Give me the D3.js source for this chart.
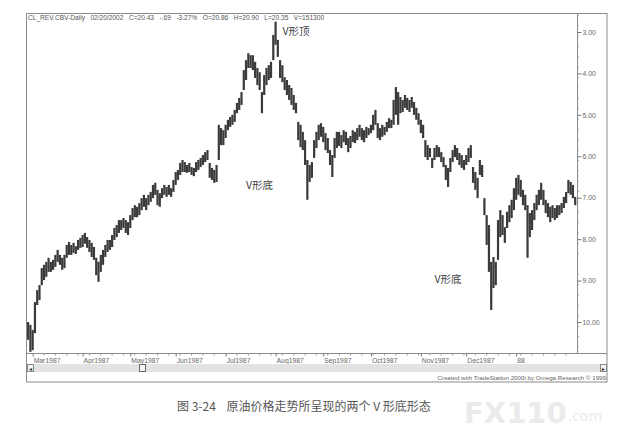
<!DOCTYPE html>
<html><head><meta charset="utf-8">
<script src="https://cdn.jsdelivr.net/npm/d3@7"></script>
<style>body{margin:0;background:#fff}svg{display:block}</style>
</head><body><svg id="c" width="644" height="446"></svg>
<script>
// Reversed-price daily bars (top value = smaller number, axis increases downward)
const barLow = [
10.00,10.07,10.19,9.52,9.23,9.11,8.70,8.62,8.55,8.45,
8.55,8.50,8.38,8.26,8.38,8.45,8.38,8.14,8.07,8.14,
8.09,8.17,8.02,7.97,7.90,7.85,7.95,8.02,8.09,8.19,
8.45,8.55,8.38,8.26,8.14,8.02,8.02,7.90,7.73,7.66,
7.54,7.54,7.49,7.54,7.59,7.42,7.25,7.18,7.22,7.13,
7.01,6.93,7.01,6.93,6.86,6.69,6.64,6.81,6.89,6.77,
6.69,6.74,6.69,6.77,6.57,6.38,6.33,6.16,6.09,6.14,
6.21,6.16,6.26,6.28,6.14,6.09,6.04,5.97,5.90,5.85,
6.16,6.28,6.33,6.21,5.24,5.32,5.37,5.24,5.12,5.05,
5.00,4.88,4.71,4.59,4.45,3.92,3.68,3.51,3.56,3.56,
3.72,3.87,3.97,4.45,4.04,3.87,3.80,3.72,3.07,2.75,
3.19,3.68,3.80,4.09,4.16,4.28,4.35,4.52,4.71,5.17,
5.24,5.41,5.61,6.09,6.21,6.14,5.61,5.41,5.24,5.20,
5.29,5.44,5.56,5.85,5.97,5.56,5.41,5.41,5.49,5.37,
5.41,5.56,5.51,5.37,5.41,5.32,5.24,5.32,5.37,5.29,
5.32,5.24,5.00,4.88,5.20,5.32,5.24,5.29,5.17,5.08,
5.12,4.64,4.33,4.45,4.57,4.64,4.52,4.59,4.64,4.57,
4.69,4.83,4.96,5.12,5.24,5.61,5.73,5.80,6.04,5.80,
5.73,5.78,5.90,6.02,6.21,6.28,6.04,5.85,5.73,5.80,
5.92,5.97,6.09,5.97,5.80,5.73,6.26,6.38,6.52,6.09,
6.21,7.01,7.42,7.66,8.55,8.43,8.55,7.54,7.30,7.42,
7.71,7.34,7.18,7.05,6.77,6.52,6.45,6.57,6.81,6.93,
7.18,7.37,7.30,7.13,6.93,6.81,6.64,6.81,7.05,7.13,
7.22,7.18,7.25,7.18,7.18,7.13,6.98,6.86,6.57,6.62,
6.69,6.98];
const barHigh = [
10.43,10.72,10.68,10.27,9.59,9.47,9.11,8.99,8.91,8.79,
8.79,8.74,8.67,8.55,8.62,8.74,8.70,8.45,8.38,8.38,
8.33,8.36,8.26,8.21,8.19,8.11,8.21,8.31,8.43,8.50,
8.87,9.03,8.79,8.62,8.43,8.31,8.26,8.19,8.02,7.95,
7.85,7.78,7.73,7.85,7.90,7.73,7.54,7.47,7.47,7.42,
7.30,7.22,7.30,7.18,7.10,7.01,6.93,7.18,7.22,7.01,
6.93,6.98,6.93,6.98,6.86,6.69,6.57,6.45,6.38,6.38,
6.40,6.38,6.45,6.48,6.38,6.33,6.26,6.21,6.14,6.09,
6.52,6.57,6.64,6.62,6.09,5.73,5.73,5.56,5.37,5.29,
5.24,5.17,4.96,4.88,4.76,4.40,4.16,3.87,3.87,3.92,
4.11,4.28,4.40,4.96,4.52,4.28,4.16,4.11,3.68,3.31,
3.60,4.11,4.21,4.40,4.52,4.64,4.76,4.88,4.96,5.61,
5.78,5.85,6.21,7.05,6.62,6.52,6.04,5.80,5.61,5.53,
5.66,5.85,5.92,6.21,6.50,6.04,5.80,5.75,5.80,5.66,
5.73,5.90,5.80,5.66,5.68,5.61,5.53,5.61,5.66,5.56,
5.49,5.44,5.37,5.24,5.56,5.61,5.53,5.49,5.41,5.32,
5.32,5.24,5.00,5.24,4.96,4.93,4.83,4.88,4.93,4.83,
5.00,5.12,5.24,5.44,5.56,6.02,6.09,6.02,6.28,6.09,
6.02,6.02,6.14,6.26,6.57,6.74,6.38,6.14,6.02,6.09,
6.21,6.28,6.33,6.21,6.14,6.04,6.64,6.81,7.01,6.45,
6.50,7.42,8.14,8.79,9.71,9.18,9.11,8.50,7.95,7.90,
8.09,7.73,7.59,7.49,7.30,7.05,6.93,6.98,7.18,7.30,
8.45,7.95,7.78,7.54,7.30,7.18,7.05,7.18,7.37,7.47,
7.59,7.49,7.54,7.49,7.42,7.37,7.25,7.13,6.89,6.93,
7.01,7.18];
const monthLabels = ["Mar1987","Apr1987","May1987","Jun1987","Jul1987","Aug1987","Sep1987","Oct1987","Nov1987","Dec1987","88"];
const monthStart = [2,24,45,65,87,109,130,151,173,193,215];
const yTicks = [3,4,5,6,7,8,9,10];
const headerText = "CL_REV.CBV-Daily   02/20/2002   C=20.43   -.69   -3.27%   O=20.86   H=20.90   L=20.35   V=151300";
const notes = [{t:"V形顶", i:112, v:3.08}, {t:"V形底", i:96, v:6.8}, {t:"V形底", i:179, v:9.05}];
const caption = "图 3-24    原油价格走势所呈现的两个 V 形底形态";
const creditText = "Created with TradeStation 2000i by Omega Research © 1999";

const svg = d3.select("#c");
const N = barLow.length;
const L = 27, R = 577, T = 13, B = 353, FR = 607, FB = 382;
const x = d3.scaleLinear().domain([-0.5, N - 0.5]).range([L, L + N * 2.27]);
const y = d3.scaleLinear().domain([3, 10]).range([32, 322]);
const sans = "'Liberation Sans', Arial, sans-serif";
const cjk = "'Noto Sans CJK SC', sans-serif";

// watermark (behind everything)
const wm = svg.append("g");
const wm1 = wm.append("text").attr("x", 464).attr("y", 423).attr("font-family", "'DejaVu Sans', sans-serif")
  .attr("font-weight", "bold").attr("font-size", 29).attr("fill", "#ebebeb").text("FX110");
const wmW = wm1.node().getComputedTextLength();
wm.append("text").attr("x", 464 + wmW + 1).attr("y", 421).attr("font-family", "'DejaVu Sans', sans-serif")
  .attr("font-size", 14).attr("fill", "#ebebeb").text(".com");

// frame
svg.append("rect").attr("x", 26.5).attr("y", 13.5).attr("width", FR - 26.5).attr("height", FB - 13.5)
  .attr("fill", "none").attr("stroke", "#8a8a8a");
svg.append("line").attr("x1", 26.5).attr("x2", FR).attr("y1", B + 0.5).attr("y2", B + 0.5).attr("stroke", "#8a8a8a");
svg.append("line").attr("x1", R + 0.5).attr("x2", R + 0.5).attr("y1", T).attr("y2", B).attr("stroke", "#8a8a8a");

// header
svg.append("text").attr("x", 28).attr("y", 20).attr("font-family", sans).attr("font-size", 6.6)
  .attr("fill", "#555").attr("xml:space", "preserve").text(headerText);

// bars
svg.append("defs").append("clipPath").attr("id", "pc").append("rect")
  .attr("x", L).attr("y", T + 1).attr("width", R - L).attr("height", B - T - 1);
svg.append("g").attr("clip-path", "url(#pc)").selectAll("rect").data(d3.range(N)).join("rect")
  .attr("x", i => x(i) - 1.1).attr("width", 2.2)
  .attr("y", i => y(barLow[i]))
  .attr("height", i => Math.max(1, y(barHigh[i]) - y(barLow[i])))
  .attr("fill", "#3a3a3a");

// y axis
const ya = svg.append("g").attr("transform", `translate(${R + 0.5},0)`)
  .call(d3.axisRight(y).tickValues(yTicks).tickSize(4).tickPadding(1).tickFormat(d => d.toFixed(2)));
ya.select(".domain").remove();
ya.selectAll("line").attr("stroke", "#777");
ya.selectAll("text").attr("font-family", sans).attr("font-size", 6.8).attr("fill", "#666");
svg.append("g").selectAll("line").data(d3.range(2.6, 10.8, 0.25)).join("line")
  .attr("x1", R + 0.5).attr("x2", R + 2).attr("y1", d => y(d)).attr("y2", d => y(d)).attr("stroke", "#aaa");

// x axis
const xa = svg.append("g").attr("transform", `translate(0,${B + 0.5})`)
  .call(d3.axisBottom(x).tickValues(monthStart).tickSize(3).tickFormat((d, k) => monthLabels[k]));
xa.select(".domain").remove();
xa.selectAll("line").attr("stroke", "#777");
xa.selectAll("text").attr("text-anchor", "start").attr("dx", 0.5).attr("dy", "0.45em")
  .attr("font-family", sans).attr("font-size", 6.8).attr("fill", "#666");
svg.append("g").selectAll("line").data(d3.range(2, N, 5).filter(i => !monthStart.includes(i))).join("line")
  .attr("x1", i => x(i)).attr("x2", i => x(i)).attr("y1", B + 0.5).attr("y2", B + 2.5).attr("stroke", "#999");

// scrollbar
svg.append("rect").attr("x", 27).attr("y", 364).attr("width", FR - 27).attr("height", 8).attr("fill", "#e3e3e3");
[[27, "◄"], [FR - 7, "►"]].forEach(([bx, g]) => {
  svg.append("rect").attr("x", bx + 0.5).attr("y", 364.5).attr("width", 6).attr("height", 7)
    .attr("fill", "#f4f4f4").attr("stroke", "#888");
  svg.append("text").attr("x", bx + 3.5).attr("y", 370.5).attr("text-anchor", "middle")
    .attr("font-size", 5).attr("fill", "#333").text(g);
});
svg.append("rect").attr("x", 139.5).attr("y", 364.5).attr("width", 6).attr("height", 7)
  .attr("fill", "#f7f7f7").attr("stroke", "#666");
svg.append("text").attr("x", FR - 1).attr("y", 380).attr("text-anchor", "end").attr("font-family", sans)
  .attr("font-size", 6.2).attr("fill", "#666").text(creditText);

// annotations
notes.forEach(n => {
  svg.append("text").attr("x", x(n.i)).attr("y", y(n.v)).attr("font-family", cjk)
    .attr("font-size", 10.5).attr("fill", "#444").text(n.t);
});

// caption
svg.append("text").attr("x", 177).attr("y", 411).attr("font-family", cjk).attr("font-size", 12)
  .attr("fill", "#555").attr("xml:space", "preserve").text(caption);
</script></body></html>
